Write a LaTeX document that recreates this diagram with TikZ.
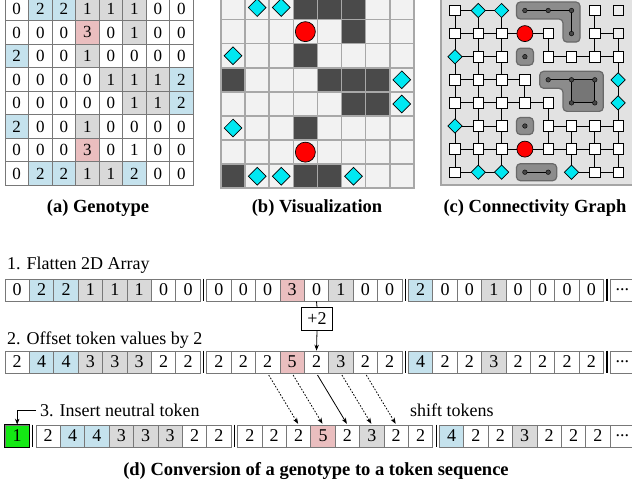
\documentclass[tikz,border=0pt]{standalone}
\usepackage{fontspec}
\setmainfont{Liberation Serif}
\usetikzlibrary{arrows.meta,shapes.geometric}
\definecolor{cb}{RGB}{197,226,237}
\definecolor{cg}{RGB}{217,217,217}
\definecolor{cp}{RGB}{234,190,191}
\definecolor{cw}{RGB}{255,255,255}
\definecolor{cgr}{RGB}{20,232,20}
\definecolor{vlight}{RGB}{242,242,242}
\definecolor{vline}{RGB}{168,168,168}
\definecolor{vdark}{RGB}{74,74,74}
\definecolor{dcyan}{RGB}{0,232,242}
\definecolor{gbg}{RGB}{226,226,226}
\definecolor{gborder}{RGB}{165,165,165}
\definecolor{wfill}{RGB}{140,140,140}
\definecolor{wdraw}{RGB}{105,105,105}
\definecolor{winner}{RGB}{118,118,118}
\definecolor{wdot}{RGB}{70,70,70}
\definecolor{lsq}{RGB}{238,238,238}
\definecolor{cellline}{RGB}{120,120,120}
\newcommand\tdots{...}
\newcommand\tokgroup[4]{%
  \foreach \v/\f [count=\i from 0] in {#4} {
    \node[tok,fill=\f] (#1-\i) at ({#2+24.4*\i+12.2},#3) {\v};
  }}
\begin{document}
\begin{tikzpicture}[x=1pt,y=-1pt,
  geno/.style={draw=cellline,line width=0.7,minimum width=23.5,minimum height=23.5,inner sep=0,font=\fontsize{17}{17}\selectfont},
  vcell/.style={draw=vline,fill=vlight,line width=1.6,minimum size=24.1,inner sep=0},
  vdia/.style={diamond,draw=black,fill=dcyan,line width=0.7,minimum width=18,minimum height=18,inner sep=0},
  vred/.style={circle,draw=black,fill=red,line width=0.7,minimum size=20,inner sep=0},
  gsq/.style={rectangle,draw=black,fill=white,line width=0.7,minimum size=10.5,inner sep=0},
  gdia/.style={diamond,draw=black,fill=dcyan,line width=0.7,minimum width=14.5,minimum height=14.5,inner sep=0},
  gred/.style={circle,draw=black,fill=red,line width=0.7,minimum size=16,inner sep=0},
  gdot/.style={circle,draw=black,fill=wdot,line width=0.4,minimum size=4.6,inner sep=0},
  gedge/.style={draw=black,line width=0.9},
  wall/.style={draw=wdraw,fill=wfill,line width=1.2,rounded corners=4},
  tok/.style={draw=cellline,line width=0.7,minimum width=24.4,minimum height=22,inner sep=0,font=\fontsize{18}{18}\selectfont},
  sepline/.style={draw=black,line width=1.1},
  lab/.style={font=\fontsize{18}{18}\selectfont,inner sep=0,anchor=west},
  captext/.style={font=\bfseries\fontsize{18.5}{18.5}\selectfont,inner sep=0},
  arr/.style={-{Stealth[length=6pt,width=4.5pt]},line width=0.8},
  dotarr/.style={arr,dash pattern=on 1.6pt off 1.6pt}]
\useasboundingbox (0,0) rectangle (632,489);
\fill[white] (0,0) rectangle (632,489);

% ---------- (a) Genotype ----------
\foreach \row [count=\r from 0] in {
 {0/cw,2/cb,2/cb,1/cg,1/cg,1/cg,0/cw,0/cw},
 {0/cw,0/cw,0/cw,3/cp,0/cw,1/cg,0/cw,0/cw},
 {2/cb,0/cw,0/cw,1/cg,0/cw,0/cw,0/cw,0/cw},
 {0/cw,0/cw,0/cw,0/cw,1/cg,1/cg,1/cg,2/cb},
 {0/cw,0/cw,0/cw,0/cw,0/cw,1/cg,1/cg,2/cb},
 {2/cb,0/cw,0/cw,1/cg,0/cw,0/cw,0/cw,0/cw},
 {0/cw,0/cw,0/cw,3/cp,0/cw,1/cw,0/cw,0/cw},
 {0/cw,2/cb,2/cb,1/cg,1/cg,2/cb,0/cw,0/cw}} {
  \foreach \v/\f [count=\c from 0] in \row {
    \node[geno,fill=\f] (a-\r-\c) at ({5+23.5*\c+11.75},{-2.8+23.5*\r+11.75}) {\v};
  }
}
\node[captext] (capa) at (98,208) {(a) Genotype};

% ---------- (b) Visualization ----------
\foreach \r in {0,...,7} {
  \foreach \c in {0,...,7} {
    \node[vcell] (v-\r-\c) at ({221+24.1*\c+12.05},{-4.5+24.1*\r+12.05}) {};
  }
}
\foreach \r/\c in {0/3,0/4,0/5,1/5,2/3,3/0,3/4,3/5,3/6,4/5,4/6,5/3,7/0,7/3,7/4}
  \node[vcell,fill=vdark] at (v-\r-\c) {};
\foreach \r/\c in {0/1,0/2,2/0,3/7,4/7,5/0,7/1,7/2,7/5}
  \node[vdia] at (v-\r-\c) {};
\foreach \r/\c in {1/3,6/3}
  \node[vred] at (v-\r-\c) {};
\node[captext] (capb) at (317,208) {(b) Visualization};

% ---------- (c) Connectivity graph ----------
\draw[gborder,fill=gbg,line width=1.5] (441,-5) rectangle (645,185);
\foreach \r in {0,...,7} {
  \foreach \c in {0,...,7} {
    \coordinate (g-\r-\c) at ({455+23.3*\c},{10.5+23.1*\r});
  }
}
% walls
\path[wall] (516.4,2) -- (580,2) -- (580,42.1) -- (563,42.1) -- (563,19) -- (516.4,19) -- cycle;
\path[wall] (539.7,71.3) -- (603.3,71.3) -- (603.3,111.4) -- (563,111.4) -- (563,88.3) -- (539.7,88.3) -- cycle;
\fill[winner] (g-3-5) rectangle (g-4-6);
\path[wall] (516.4,163.7) rectangle (556.7,180.7);
\path[wall] (516.4,48.2) rectangle (533.4,65.2);
\path[wall] (516.4,117.5) rectangle (533.4,134.5);
\draw[gedge] (g-0-3) -- (g-0-4) -- (g-0-5) -- (g-1-5);
\draw[gedge] (g-3-4) -- (g-3-5) -- (g-3-6) -- (g-4-6) -- (g-4-5) -- (g-3-5);
\draw[gedge] (g-7-3) -- (g-7-4);
\foreach \r/\c in {0/3,0/4,0/5,1/5,2/3,3/4,3/5,3/6,4/5,4/6,5/3,7/3,7/4}
  \node[gdot] (gn-\r-\c) at (g-\r-\c) {};
% horizontal edges
\foreach \r/\c in {0/0,0/1,
  1/0,1/1,1/2,1/3,1/6,
  2/0,2/1,2/4,2/5,2/6,
  3/0,3/1,3/2,
  4/0,4/1,4/2,4/3,
  5/0,5/1,5/4,5/5,5/6,
  6/0,6/1,6/2,6/3,6/4,6/5,6/6,
  7/0,7/1,7/5,7/6} {
  \pgfmathtruncatemacro\cc{\c+1}
  \draw[gedge] (g-\r-\c) -- (g-\r-\cc);
}
% vertical edges
\foreach \r/\c in {0/0,0/1,0/2,0/6,
  1/0,1/1,1/2,1/4,1/6,1/7,
  2/0,2/1,2/2,2/7,
  3/0,3/1,3/2,3/3,3/7,
  4/0,4/1,4/2,4/4,4/7,
  5/0,5/1,5/2,5/4,5/5,5/6,5/7,
  6/0,6/1,6/2,6/5,6/6,6/7} {
  \pgfmathtruncatemacro\rr{\r+1}
  \draw[gedge] (g-\r-\c) -- (g-\rr-\c);
}
% nodes
\foreach \r/\c in {0/0,0/6,
  1/0,1/1,1/2,1/4,1/6,
  2/1,2/2,2/4,2/5,2/6,2/7,
  3/0,3/1,3/2,3/3,
  4/0,4/1,4/2,4/3,4/4,
  5/1,5/2,5/4,5/5,5/6,5/7,
  6/0,6/1,6/2,6/4,6/5,6/6,6/7,
  7/0,7/6,7/7}
  \node[gsq] (gn-\r-\c) at (g-\r-\c) {};
\foreach \r/\c in {0/7,1/7}
  \node[gsq,fill=lsq] (gn-\r-\c) at (g-\r-\c) {};
\foreach \r/\c in {0/1,0/2,2/0,3/7,4/7,5/0,7/1,7/2,7/5}
  \node[gdia] (gn-\r-\c) at (g-\r-\c) {};
\foreach \r/\c in {1/3,6/3}
  \node[gred] (gn-\r-\c) at (g-\r-\c) {};
\node[captext] (capc) at (535,208) {(c) Connectivity Graph};

% ---------- (d) Token sequence ----------
\node[lab] (lab1) at (7,265) {1. Flatten 2D Array};
\tokgroup{p1}{5}{290}{0/cw,2/cb,2/cb,1/cg,1/cg,1/cg,0/cw,0/cw}
\tokgroup{q1}{206.7}{290}{0/cw,0/cw,0/cw,3/cp,0/cw,1/cg,0/cw,0/cw}
\tokgroup{s1}{408.4}{290}{2/cb,0/cw,0/cw,1/cg,0/cw,0/cw,0/cw,0/cw}
\tokgroup{e1}{610.1}{290}{\tdots/cw}
\foreach \n in {p1-7,q1-7,s1-7}
  \draw[sepline] ([xshift=3pt]\n.north east) -- ([xshift=3pt]\n.south east);

\node[lab] (lab2) at (7,340) {2. Offset token values by 2};
\tokgroup{p2}{5}{362}{2/cw,4/cb,4/cb,3/cg,3/cg,3/cg,2/cw,2/cw}
\tokgroup{q2}{206.7}{362}{2/cw,2/cw,2/cw,5/cp,2/cw,3/cg,2/cw,2/cw}
\tokgroup{s2}{408.4}{362}{4/cb,2/cw,2/cw,3/cg,2/cw,2/cw,2/cw,2/cw}
\tokgroup{e2}{610.1}{362}{\tdots/cw}
\foreach \n in {p2-7,q2-7,s2-7}
  \draw[sepline] ([xshift=3pt]\n.north east) -- ([xshift=3pt]\n.south east);

\node[draw=black,line width=0.7,minimum width=31,minimum height=23,inner sep=0,font=\fontsize{18}{18}\selectfont] (plus) at (317,319) {+2};
\draw[line width=0.8] (q1-4.south) -- (plus.north);
\draw[arr] (plus.south) -- (q2-4.north);

\node[lab] (lab3) at (40,410) {3. Insert neutral token};
\node[lab] (lab4) at (410,410) {shift tokens};
\tokgroup{n3}{5}{436}{1/cgr}
\tokgroup{p3}{35.9}{436}{2/cw,4/cb,4/cb,3/cg,3/cg,3/cg,2/cw,2/cw}
\tokgroup{q3}{237.6}{436}{2/cw,2/cw,2/cw,5/cp,2/cw,3/cg,2/cw,2/cw}
\tokgroup{s3}{439.3}{436}{4/cb,2/cw,2/cw,3/cg,2/cw,2/cw,2/cw,\tdots/cw}
\draw[black,line width=0.7] (n3-0.north west) rectangle (n3-0.south east);
\foreach \n in {n3-0,p3-7,q3-7}
  \draw[sepline] ([xshift=3pt]\n.north east) -- ([xshift=3pt]\n.south east);
\draw[arr] ([xshift=-4pt]lab3.west) -| (n3-0.north);

\foreach \i in {2,3,5,6}
  \draw[dotarr,shorten <=2pt,shorten >=1pt] (q2-\i.south) -- (q3-\i.north);
\draw[arr,shorten <=2pt,shorten >=1pt] (q2-4.south) -- (q3-4.north);

\node[captext] (capd) at (316,471) {(d) Conversion of a genotype to a token sequence};
\end{tikzpicture}
\end{document}
